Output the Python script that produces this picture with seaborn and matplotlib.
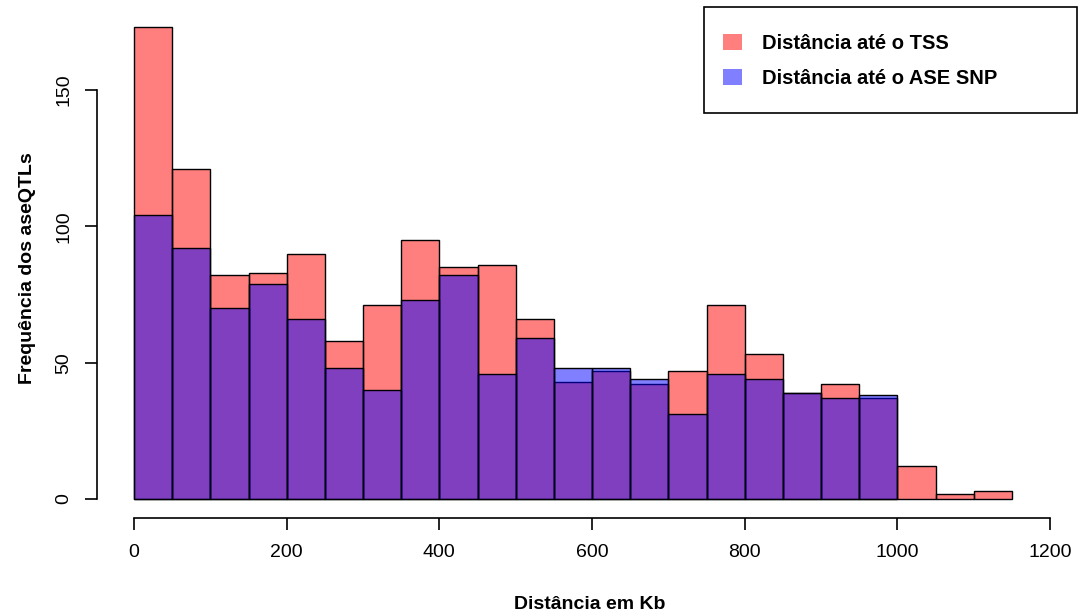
import matplotlib
matplotlib.use("Agg")
import matplotlib.pyplot as plt
from matplotlib.patches import Patch, Rectangle
import numpy as np
import pandas as pd
import seaborn as sns

# ---- data (bin width 50 Kb) ----
tss_edges = [0, 50, 100, 150, 200, 250, 300, 350, 400, 450, 500, 550, 600,
             650, 700, 750, 800, 850, 900, 950, 1000, 1050, 1100, 1150]
tss_counts = [173, 121, 82, 83, 90, 58, 71, 95, 85, 86, 66, 43, 47, 42, 47,
              71, 53, 39, 42, 37, 12, 2, 3]
ase_edges = [0, 50, 100, 150, 200, 250, 300, 350, 400, 450, 500, 550, 600,
             650, 700, 750, 800, 850, 900, 950, 1000]
ase_counts = [104, 92, 70, 79, 66, 48, 40, 73, 82, 46, 59, 48, 48, 44, 31,
              46, 44, 39, 37, 38]
legend_labels = ["Distância até o TSS", "Distância até o ASE SNP"]
x_ticks = [0, 200, 400, 600, 800, 1000, 1200]
y_ticks = [0, 50, 100, 150]
x_label = "Distância em Kb"
y_label = "Frequência dos aseQTLs"

tss_df = pd.DataFrame({
    "mid": [(a + b) / 2 for a, b in zip(tss_edges[:-1], tss_edges[1:])],
    "n": tss_counts})
ase_df = pd.DataFrame({
    "mid": [(a + b) / 2 for a, b in zip(ase_edges[:-1], ase_edges[1:])],
    "n": ase_counts})

sns.set_style("white")
plt.rcParams["font.family"] = ["Liberation Sans", "DejaVu Sans"]
plt.rcParams["text.color"] = "black"
plt.rcParams["axes.labelcolor"] = "black"

W, H = 1080, 616
fig = plt.figure(figsize=(W / 100, H / 100), dpi=100)
ax = fig.add_axes([97 / W, (H - 518) / H, (W - 97) / W, (518 - 8) / H])

red = (1, 0, 0, 0.5)
blue = (0, 0, 1, 0.5)
sns.histplot(data=tss_df, x="mid", weights="n", bins=tss_edges, ax=ax,
             color="red", alpha=0.5, edgecolor="black", linewidth=1.0)
sns.histplot(data=ase_df, x="mid", weights="n", bins=ase_edges, ax=ax,
             color="blue", alpha=0.5, edgecolor="black", linewidth=1.0)

pxu_x = (1050 - 134) / 1200
pxu_y = (499 - 90) / 150
ax.set_xlim((97 - 134) / pxu_x, (W - 134) / pxu_x)
ax.set_ylim(-(518 - 499) / pxu_y, (499 - 8) / pxu_y)

for s in ["top", "right"]:
    ax.spines[s].set_visible(False)
for s in ["left", "bottom"]:
    ax.spines[s].set_linewidth(1.2)
    ax.spines[s].set_color("black")
ax.spines["left"].set_bounds(0, 150)
ax.spines["bottom"].set_bounds(0, 1200)

ax.set_xticks(x_ticks)
ax.set_yticks(y_ticks)
ax.set_yticklabels([str(v) for v in y_ticks], rotation=90, va="center")
ax.tick_params(axis="both", direction="out", length=8.6, width=1.2,
               colors="black", labelsize=14, bottom=True, left=True)
ax.tick_params(axis="x", pad=10)
ax.tick_params(axis="y", pad=9)

ax.set_xlabel(x_label, fontsize=14, fontweight="bold", color="black")
ax.set_ylabel(y_label, fontsize=14, fontweight="bold", color="black")
ax.xaxis.set_label_coords((590 - 97) / 983, (518 - 596) / 510)
ax.yaxis.set_label_coords((36 - 97) / 983, (518 - 268) / 510)

# legend
handles = [Patch(facecolor=red, edgecolor="none"),
           Patch(facecolor=blue, edgecolor="none")]
leg = fig.legend(handles, legend_labels, loc="upper left",
                 bbox_to_anchor=(723 / W, 1 - 34 / H),
                 bbox_transform=fig.transFigure, frameon=False,
                 borderpad=0, borderaxespad=0, handlelength=0.95,
                 handleheight=0.85, handletextpad=1.0, labelspacing=0.78,
                 labelcolor="black",
                 prop={"size": 14.5, "weight": "bold"})
fig.patches.append(Rectangle((704 / W, 1 - 113 / H), 373 / W, 106 / H,
                             transform=fig.transFigure, fill=False,
                             edgecolor="black", linewidth=1.2))

fig.savefig("out.png", dpi=100)
